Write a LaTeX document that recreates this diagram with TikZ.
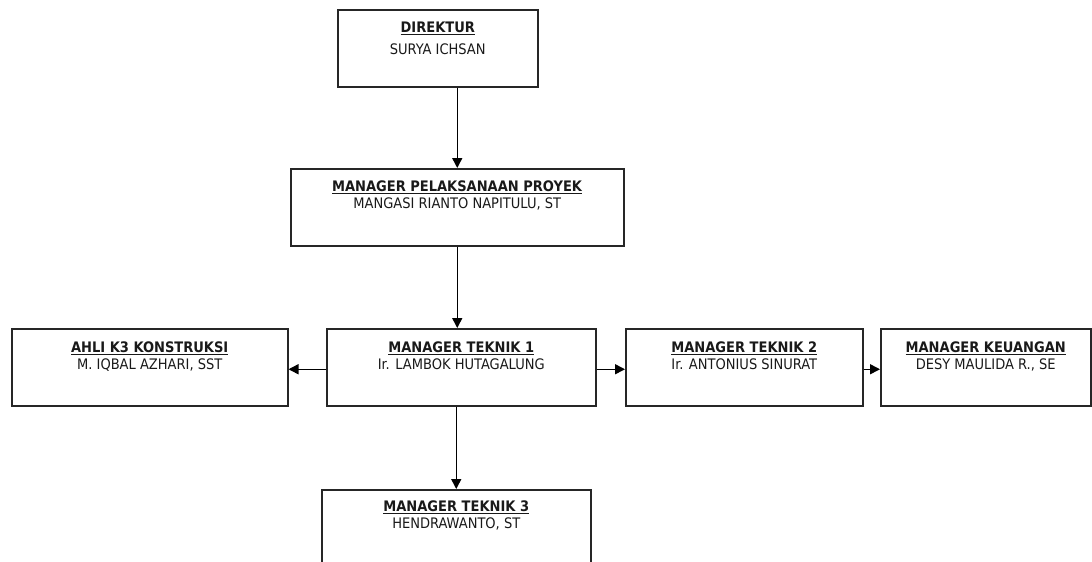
\documentclass[tikz,border=0pt]{standalone}
\usepackage{fontspec}
\setmainfont{DejaVu Sans Condensed}
\usetikzlibrary{positioning,arrows.meta}

\begin{document}
\begin{tikzpicture}[x=1pt,y=-1pt,
  kotak/.style={draw=black!85,line width=1.5pt,minimum height=77pt,anchor=north west,inner sep=0pt},
  isi/.style={align=center,inner sep=0pt,font=\fontsize{14.5}{17}\selectfont,text=black!90},
  panah/.style={-{Triangle[length=10pt,width=10pt]},line width=1.5pt}]
\useasboundingbox (0,0) rectangle (1092,562);

% kotak jabatan
\node[kotak,minimum width=200pt] (dir) at (337,9) {};
\node[kotak,minimum width=333pt] (mpp) at (290,168) {};
\node[kotak,minimum width=276pt] (k3) at (11,328) {};
\node[kotak,minimum width=269pt] (mt1) at (326,328) {};
\node[kotak,minimum width=237pt] (mt2) at (625,328) {};
\node[kotak,minimum width=210pt] (keu) at (880,328) {};
\node[kotak,minimum width=269pt] (mt3) at (321,489) {};

% teks
\node[isi,below=13pt of dir.north] (dir-t) {\underline{\textbf{DIREKTUR}}\\[5pt]SURYA ICHSAN};
\node[isi,below=13pt of mpp.north] (mpp-t) {\underline{\textbf{MANAGER PELAKSANAAN PROYEK}}\\MANGASI RIANTO NAPITULU, ST};
\node[isi,below=14pt of k3.north] (k3-t) {\underline{\textbf{AHLI K3 KONSTRUKSI}}\\M. IQBAL AZHARI, SST};
\node[isi,below=14pt of mt1.north] (mt1-t) {\underline{\textbf{MANAGER TEKNIK 1}}\\Ir. LAMBOK HUTAGALUNG};
\node[isi,below=14pt of mt2.north] (mt2-t) {\underline{\textbf{MANAGER TEKNIK 2}}\\Ir. ANTONIUS SINURAT};
\node[isi,below=14pt of keu.north] (keu-t) {\underline{\textbf{MANAGER KEUANGAN}}\\DESY MAULIDA R., SE};
\node[isi,below=12pt of mt3.north] (mt3-t) {\underline{\textbf{MANAGER TEKNIK 3}}\\HENDRAWANTO, ST};

% garis
\draw[panah] (dir.south -| mpp.north) -- (mpp.north);
\draw[panah] (mpp.south) -- (mpp.south |- mt1.north);
\draw[panah] ([yshift=-2pt]mt1.west) -- ([yshift=-2pt]k3.east);
\draw[panah] ([yshift=-2pt]mt1.east) -- ([yshift=-2pt]mt2.west);
\draw[panah] ([yshift=-2pt]mt2.east) -- ([yshift=-2pt]keu.west);
\draw[panah] (mt1.south -| mt3.north) -- (mt3.north);
\end{tikzpicture}
\end{document}
